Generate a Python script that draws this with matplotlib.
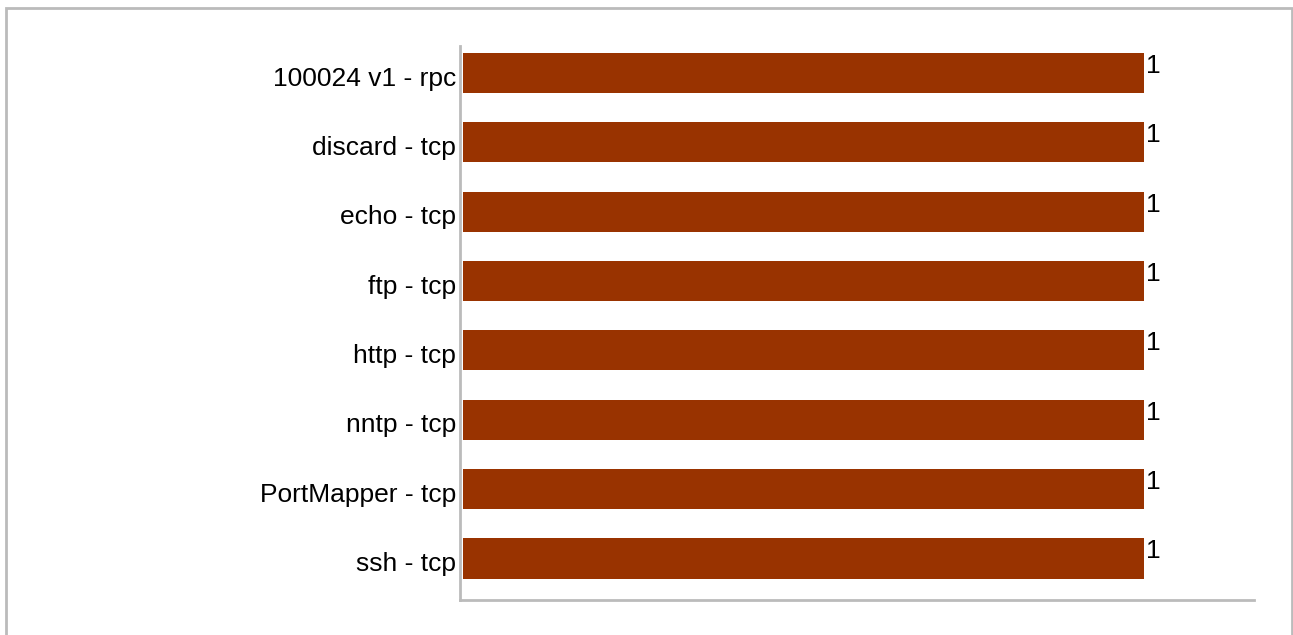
import matplotlib
matplotlib.use("Agg")
import matplotlib.pyplot as plt
import matplotlib.transforms as mtransforms
from matplotlib.patches import Rectangle

# donnees
services = ["100024 v1 - rpc", "discard - tcp", "echo - tcp", "ftp - tcp",
            "http - tcp", "nntp - tcp", "PortMapper - tcp", "ssh - tcp"]
counts = [1, 1, 1, 1, 1, 1, 1, 1]

W, H = 1293, 635
plt.rcParams['font.family'] = ['Liberation Sans', 'DejaVu Sans']

fig = plt.figure(figsize=(W / 100, H / 100), dpi=100)
ax = fig.add_axes([460 / W, 1 - 600 / H, (1254 - 460) / W, (600 - 46) / H])

pos = list(range(len(services)))
ax.barh(pos, counts, height=0.58, color="#993300", left=0.004)
for p, c in zip(pos, counts):
    # chiffre aligne sur le haut de la barre, ligne de base au centre
    ax.text(c + 0.007, p, str(c), va="baseline", ha="left", fontsize=19)

ax.set_ylim(7.6, -0.39)
ax.set_xlim(0, 1.166)
ax.set_yticks(pos)
ax.set_yticklabels(services, fontsize=19)
ax.set_xticks([])
ax.tick_params(axis="y", length=0, pad=3)

# libelles un peu plus bas que le centre des barres
offset = mtransforms.ScaledTranslation(0, -3 / 100, fig.dpi_scale_trans)
for lab in ax.get_yticklabels():
    lab.set_transform(lab.get_transform() + offset)

for s in ["top", "right"]:
    ax.spines[s].set_visible(False)
for s in ["left", "bottom"]:
    ax.spines[s].set_color("#bbbbbb")
    ax.spines[s].set_linewidth(2)

# cadre autour de la figure
fig.patches.append(Rectangle((6 / W, -0.1), (1292 - 6) / W, 1.1 - 8 / H,
                             transform=fig.transFigure, fill=False,
                             edgecolor="#bbbbbb", linewidth=2))

fig.savefig("out.png", dpi=100)
